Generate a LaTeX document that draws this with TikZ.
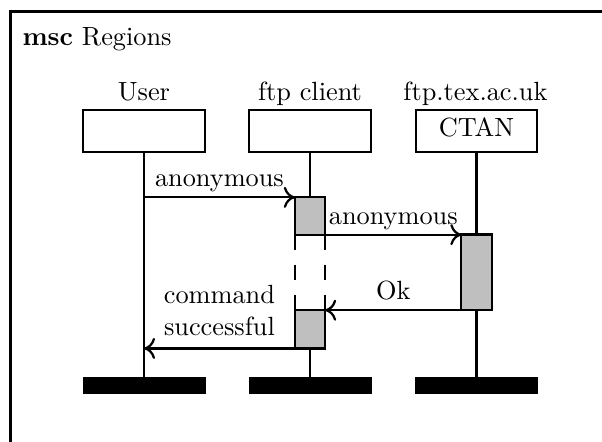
\documentclass[tikz,border=0pt]{standalone}
\usetikzlibrary{arrows.meta}
\begin{document}
\begin{tikzpicture}[x=0.38pt,y=-0.38pt,
  lw/.style={line width=0.85pt},
  headbox/.style={draw,lw,minimum width=46.2pt,minimum height=16pt,inner sep=0pt,outer sep=0pt},
  endbar/.style={fill=black,draw=black,line width=0.3pt,minimum width=46.4pt,minimum height=6.3pt,inner sep=0pt,outer sep=0pt},
  actbox/.style={draw,lw,fill=lightgray,minimum width=11.5pt,inner sep=0pt,outer sep=0pt},
  msg/.style={lw,-{To[length=4.2pt,width=8pt]}},
  lbl/.style={anchor=base,inner sep=0pt},
  msglbl/.style={midway,anchor=base,inner sep=0pt,yshift=4pt},
  region/.style={lw,dash pattern=on 5.7pt off 5.7pt}
]
\useasboundingbox (0,0) rectangle (602,441);
% frame
\coordinate (ftl) at (10.5,11.5);
\coordinate (ftr) at (603,11.5);
\coordinate (fbl) at (10.5,442);
\draw[lw] (fbl) -- (ftl) -- (ftr);
\node[anchor=base west,inner sep=0pt] (title) at (22,45) {\textbf{msc} Regions};
% instance labels and heads
\node[lbl] (ulbl) at (144,100) {User};
\node[lbl] (flbl) at (310,100) {ftp client};
\node[lbl] (clbl) at (475.5,100) {ftp.tex.ac.uk};
\node[headbox] (uhead) at (144,131) {};
\node[headbox] (fhead) at (310,131) {};
\node[headbox] (chead) at (476.5,131) {};
\node[lbl] (ctan) at (476.5,136.5) {CTAN};
% end bars
\node[endbar] (uend) at (144,385.5) {};
\node[endbar] (fend) at (310,385.5) {};
\node[endbar] (cend) at (476.5,385.5) {};
% activation regions
\node[actbox,minimum height=14.2pt] (act1) at (310,216) {};
\node[actbox,minimum height=14.6pt] (act2) at (310,329.2) {};
\node[actbox,minimum height=28.8pt] (act3) at (476.5,272.3) {};
% instance lines
\draw[lw] (uhead.south) -- (uend.north);
\draw[lw] (fhead.south) -- (act1.north);
\draw[lw] (act2.south) -- (fend.north);
\draw[lw] (chead.south) -- (act3.north);
\draw[lw] (act3.south) -- (cend.north);
% suspended region
\draw[region] (act1.south west) -- (act1.south west |- act2.north);
\draw[region] (act1.south east) -- (act1.south east |- act2.north);
% messages
\draw[msg] (uhead.south |- act1.north) -- node[msglbl] {anonymous} (act1.north west);
\draw[msg] (act1.south east) -- node[msglbl] {anonymous} (act1.south east -| act3.west);
\draw[msg] (act3.south west) -- node[msglbl] {Ok} (act3.south west -| act2.east);
\draw[msg] (act2.south west) -- node[midway,anchor=south,inner sep=0pt,yshift=4.4pt,align=center] {command\\successful} (act2.south west -| uhead.south);
\end{tikzpicture}
\end{document}
